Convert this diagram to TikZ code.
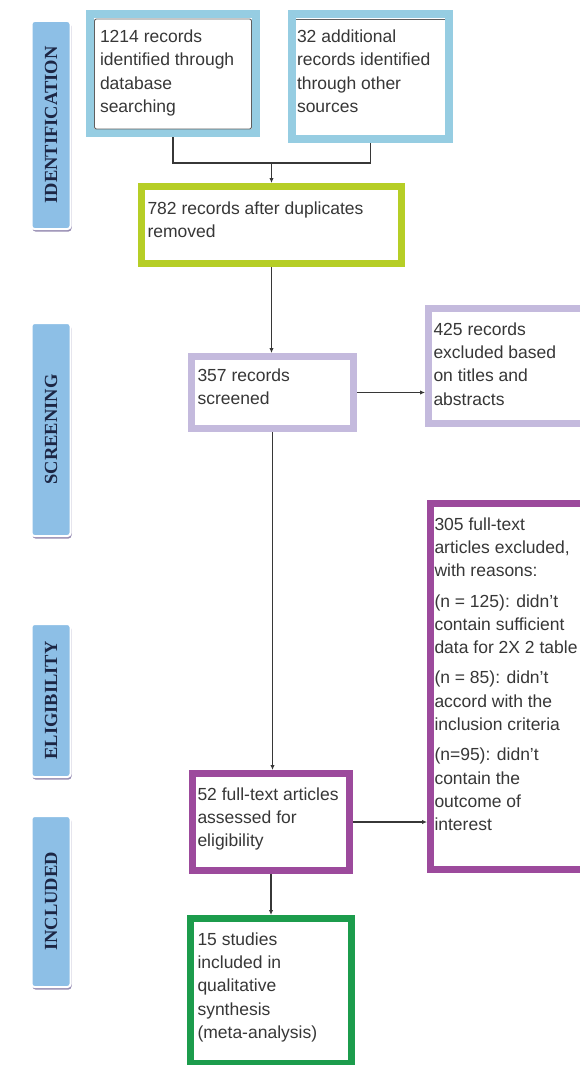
\documentclass[tikz,border=0pt]{standalone}
\usepackage{fontspec}
\setmainfont{Liberation Sans}
\newfontfamily\phasefont{Liberation Serif}
\usepackage{xcolor}
\usetikzlibrary{arrows.meta,positioning,shadows}
\definecolor{srcblue}{RGB}{150,205,226}
\definecolor{dupgreen}{RGB}{182,206,38}
\definecolor{screenlilac}{RGB}{196,186,221}
\definecolor{fullpurple}{RGB}{156,74,156}
\definecolor{inclgreen}{RGB}{28,156,76}
\definecolor{phaseblue}{RGB}{141,191,230}
\definecolor{phaseshadow}{RGB}{150,140,178}
\definecolor{phaseink}{RGB}{28,38,68}
\definecolor{boxink}{RGB}{55,55,55}
% text block of a box: width, height, lines
\newcommand{\boxtext}[3]{\parbox[c][#2pt][t]{#1pt}{\raggedright #3}}

\begin{document}
\begin{tikzpicture}[x=1pt, y=-1pt,
  stage/.style={draw, line width=7pt, anchor=north west, inner xsep=6pt, inner ysep=14pt, fill=white, text=boxink, font=\fontsize{17.5}{23.3}\selectfont},
  phase/.style={draw=white, line width=2pt, rounded corners=3pt, fill=phaseblue, minimum width=39pt, text=phaseink, font=\phasefont\bfseries\fontsize{18.5}{20}\selectfont, drop shadow={shadow xshift=1pt, shadow yshift=-2.5pt, fill=phaseshadow, opacity=1}},
  rim/.style={line width=0.9pt, draw=boxink!80},
  link/.style={line width=1.2pt, draw=boxink},
  arrow/.style={link, -{Latex[length=5pt, width=4.5pt]}}
]
\useasboundingbox (0,0) rectangle (580,1065);
\clip (0,0) rectangle (580,1065);

% phase bars
\node[phase, minimum height=208pt] (ident) at (51,125) {\rotatebox{90}{IDENTIFICATION}};
\node[phase, minimum height=213pt] (scr) at (51,429.5) {\rotatebox{90}{SCREENING}};
\node[phase, minimum height=153pt] (elig) at (51,700.5) {\rotatebox{90}{ELIGIBILITY}};
\node[phase, minimum height=171pt] (inc) at (51,901.5) {\rotatebox{90}{INCLUDED}};

% flow boxes
\node[stage, draw=srcblue, line width=8pt, inner xsep=10pt, inner ysep=16pt] (src1) at (86,10)
  {\boxtext{146}{87}{1214 records\\identified through\\database\\searching}};
\node[stage, draw=srcblue, line width=8pt, inner xsep=5pt, inner ysep=16pt] (src2) at (288,10)
  {\boxtext{147}{93}{32 additional\\records identified\\through other\\sources}};
\node[stage, draw=dupgreen, inner ysep=15pt] (dedup) at (138,183)
  {\boxtext{248}{47}{782 records after duplicates\\removed}};
\node[stage, draw=screenlilac, inner ysep=12pt] (screen) at (188,353)
  {\boxtext{150}{48}{357 records\\screened}};
\node[stage, draw=screenlilac, inner xsep=5pt] (excl1) at (425,305)
  {\boxtext{158}{87}{425 records\\excluded based\\on titles and\\abstracts}};
\node[stage, draw=fullpurple, inner xsep=4pt] (excl2) at (427,500)
  {\boxtext{158}{338}{305 full-text\\articles excluded,\\with reasons:\\[7pt](n = 125): didn't\\contain sufficient\\data for 2X 2 table\\[7pt](n = 85): didn't\\accord with the\\inclusion criteria\\[7pt](n=95): didn't\\contain the\\outcome of\\interest}};
\node[stage, draw=fullpurple, inner xsep=5pt] (full) at (189,770)
  {\boxtext{147}{69}{52 full-text articles\\assessed for\\eligibility}};
\node[stage, draw=inclgreen, inner xsep=7pt] (incl) at (187,915)
  {\boxtext{147}{117}{15 studies\\included in\\qualitative\\synthesis\\(meta-analysis)}};

% thin inner rims of the two source boxes
\draw[rim, rounded corners=2pt] ([shift={(8.5,9)}]src1.north west) rectangle ([shift={(-8.5,-8)}]src1.south east);
\draw[rim] ([shift={(8,9)}]src2.north west) -- ([shift={(-8,9)}]src2.north east);

% connectors
\coordinate (lvl) at (0,163);
\draw[link] (src1.south) |- (dedup.north |- lvl) -| (src2.south);
\draw[arrow] (dedup.north |- lvl) -- (dedup.north);
\draw[arrow] (dedup.south) -- (dedup.south |- screen.north);
\draw[arrow] (screen.east) -- (screen.east -| excl1.west);
\draw[arrow] (screen.south) -- (screen.south |- full.north);
\draw[arrow] (full.east) -- (full.east -| excl2.west);
\draw[arrow] (full.south) -- (full.south |- incl.north);
\end{tikzpicture}
\end{document}
